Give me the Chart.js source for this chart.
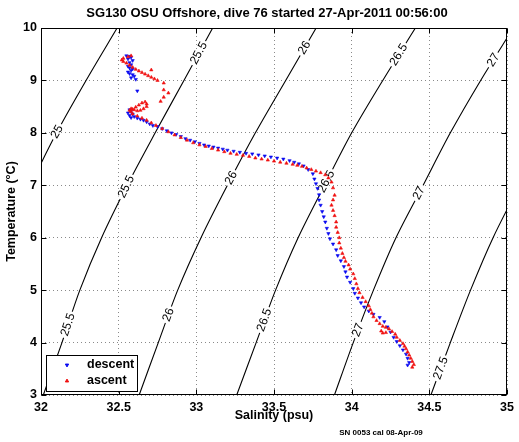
<!DOCTYPE html>
<html>
<head>
<meta charset="utf-8">
<script src="https://cdn.jsdelivr.net/npm/chart.js@4.4.1/dist/chart.umd.min.js"></script>
<style>
  html, body { margin: 0; padding: 0; background: #fff; }
  #wrap { width: 519px; height: 442px; position: relative; }
</style>
</head>
<body>
<div id="wrap"><canvas id="c"></canvas></div>
<script>
// Descent profile (salinity psu, temperature degC)
const descentSal = [32.55, 32.57, 32.58, 32.56, 32.59, 32.57, 32.58, 32.56, 32.57, 32.59, 32.58, 32.56, 32.57, 32.59, 32.60, 32.58, 32.61, 32.62,
  32.57, 32.58, 32.56, 32.59, 32.57, 32.60, 32.58, 32.62, 32.64, 32.66, 32.68, 32.70, 32.72, 32.75, 32.78, 32.81, 32.84, 32.87, 32.90, 32.93,
  32.96, 32.99, 33.02, 33.05, 33.08, 33.11, 33.14, 33.17, 33.20, 33.24, 33.28, 33.32, 33.36, 33.40, 33.44, 33.48, 33.52, 33.56, 33.60, 33.63,
  33.66, 33.69, 33.72, 33.75, 33.76, 33.77, 33.78, 33.79, 33.79, 33.80, 33.81, 33.82, 33.83, 33.84, 33.85, 33.86, 33.88, 33.90, 33.91, 33.93,
  33.95, 33.96, 33.97, 33.99, 34.01, 34.02, 34.04, 34.06, 34.08, 34.11, 34.14, 34.18, 34.21, 34.23, 34.25, 34.27, 34.29, 34.31, 34.33, 34.35,
  34.36, 34.37, 34.36];
const descentTemp = [9.47, 9.46, 9.44, 9.41, 9.38, 9.34, 9.30, 9.27, 9.24, 9.22, 9.19, 9.16, 9.13, 9.11, 9.08, 9.05, 9.02, 8.80,
  8.44, 8.41, 8.38, 8.36, 8.33, 8.31, 8.29, 8.28, 8.26, 8.24, 8.21, 8.17, 8.14, 8.12, 8.08, 8.04, 8.00, 7.97, 7.93, 7.89,
  7.86, 7.83, 7.80, 7.77, 7.75, 7.73, 7.71, 7.69, 7.67, 7.65, 7.63, 7.61, 7.60, 7.58, 7.56, 7.54, 7.52, 7.50, 7.47, 7.44,
  7.41, 7.37, 7.30, 7.22, 7.12, 7.03, 6.94, 6.82, 6.72, 6.62, 6.50, 6.40, 6.30, 6.18, 6.08, 5.98, 5.88, 5.77, 5.66, 5.56,
  5.45, 5.35, 5.25, 5.15, 5.03, 4.94, 4.85, 4.76, 4.68, 4.60, 4.54, 4.48, 4.40, 4.30, 4.20, 4.10, 4.02, 3.94, 3.86, 3.78,
  3.70, 3.62, 3.57];

// Ascent profile
const ascentSal = [34.39, 34.40, 34.39, 34.38, 34.37, 34.36, 34.35, 34.34, 34.33, 34.31, 34.29, 34.28, 34.26, 34.24, 34.22, 34.20, 34.19, 34.20,
  34.22, 34.18, 34.16, 34.14, 34.13, 34.12, 34.11, 34.09, 34.07, 34.05, 34.04, 34.03, 34.02, 34.01, 33.99, 33.98, 33.96, 33.95, 33.94, 33.93,
  33.92, 33.92, 33.91, 33.90, 33.90, 33.89, 33.88, 33.87, 33.88, 33.89, 33.88, 33.87, 33.85, 33.83, 33.80, 33.77, 33.74, 33.71, 33.68, 33.65,
  33.62, 33.58, 33.54, 33.50, 33.46, 33.42, 33.38, 33.34, 33.30, 33.26, 33.22, 33.18, 33.14, 33.10, 33.06, 33.02, 32.98, 32.94, 32.90, 32.86,
  32.82, 32.78, 32.74, 32.71, 32.68, 32.65, 32.62, 32.59, 32.58, 32.59, 32.61, 32.63, 32.65, 32.67, 32.68, 32.68, 32.66, 32.64, 32.62, 32.60,
  32.58, 32.57, 32.77, 32.79, 32.82, 32.79, 32.79, 32.71, 32.75, 32.73, 32.71, 32.69, 32.67, 32.65, 32.63, 32.61, 32.59, 32.57, 32.55, 32.53,
  32.52, 32.53, 32.56, 32.58];
const ascentTemp = [3.53, 3.58, 3.64, 3.70, 3.76, 3.82, 3.88, 3.93, 3.98, 4.04, 4.10, 4.16, 4.21, 4.26, 4.29, 4.31, 4.22, 4.18,
  4.19, 4.36, 4.42, 4.49, 4.56, 4.63, 4.70, 4.78, 4.86, 4.95, 5.03, 5.12, 5.22, 5.31, 5.40, 5.48, 5.55, 5.62, 5.70, 5.80,
  5.90, 6.00, 6.10, 6.20, 6.30, 6.42, 6.52, 6.62, 6.72, 6.81, 6.95, 7.06, 7.14, 7.20, 7.24, 7.27, 7.30, 7.33, 7.36, 7.38,
  7.40, 7.42, 7.44, 7.46, 7.48, 7.50, 7.52, 7.55, 7.57, 7.59, 7.61, 7.64, 7.67, 7.70, 7.74, 7.77, 7.81, 7.86, 7.91, 7.96,
  8.02, 8.08, 8.14, 8.19, 8.24, 8.28, 8.32, 8.36, 8.40, 8.45, 8.49, 8.53, 8.57, 8.59, 8.55, 8.50, 8.46, 8.43, 8.42, 8.44,
  8.46, 8.43, 8.60, 8.68, 8.76, 8.82, 8.95, 9.20, 9.00, 9.03, 9.06, 9.09, 9.12, 9.15, 9.18, 9.21, 9.25, 9.29, 9.33, 9.36,
  9.39, 9.42, 9.45, 9.47];

// Potential density contours (sigma-theta)
const sal25 = [31.93, 32.10, 32.29, 32.49];
const temp25 = [7, 8, 9, 10];
const sal255 = [32.015, 32.135, 32.25, 32.39, 32.555, 32.735, 32.92, 33.105];
const temp255 = [3, 4, 5, 6, 7, 8, 9, 10];
const sal26 = [32.632, 32.755, 32.88, 33.03, 33.2, 33.38, 33.575, 33.771];
const temp26 = [3, 4, 5, 6, 7, 8, 9, 10];
const sal265 = [33.26, 33.385, 33.51, 33.655, 33.825, 34.0, 34.2, 34.41];
const temp265 = [3, 4, 5, 6, 7, 8, 9, 10];
const sal27 = [33.889, 34.01, 34.14, 34.285, 34.46, 34.635, 34.83, 35.04];
const temp27 = [3, 4, 5, 6, 7, 8, 9, 10];
const sal275 = [34.51, 34.635, 34.765, 34.91, 35.08];
const temp275 = [3, 4, 5, 6, 7];

// Contour labels: level and the temperature where each one sits
const labelLevels = ['25', '25.5', '25.5', '25.5', '26', '26', '26', '26.5', '26.5', '26.5', '27', '27', '27', '27.5'];
const labelTemps = [8.02, 9.52, 6.97, 4.34, 9.62, 7.14, 4.53, 9.49, 7.07, 4.43, 9.39, 6.85, 4.24, 3.51];

const contours = [
  { level: '25', sal: sal25, temp: temp25 },
  { level: '25.5', sal: sal255, temp: temp255 },
  { level: '26', sal: sal26, temp: temp26 },
  { level: '26.5', sal: sal265, temp: temp265 },
  { level: '27', sal: sal27, temp: temp27 },
  { level: '27.5', sal: sal275, temp: temp275 },
];

const FONT = '"Liberation Sans", Arial, Helvetica, sans-serif';
const BLUE = '#0a0af0';
const RED = '#f01010';

const toPoints = (s, t) => s.map((v, i) => ({ x: v, y: t[i] }));

const datasets = [
  { label: 'ascent', data: toPoints(ascentSal, ascentTemp), pointStyle: 'triangle', rotation: 0,
    pointRadius: 1.9, borderWidth: 0.6, backgroundColor: RED, borderColor: RED },
  { label: 'descent', data: toPoints(descentSal, descentTemp), pointStyle: 'triangle', rotation: 180,
    pointRadius: 1.9, borderWidth: 0.6, backgroundColor: BLUE, borderColor: BLUE },
];
for (const c of contours) {
  datasets.push({
    label: 'sigma ' + c.level, data: toPoints(c.sal, c.temp), showLine: true, pointRadius: 0,
    borderColor: '#000', borderWidth: 1.1, tension: 0.3, fill: false,
  });
}

function contourLabels(chart) {
  const { ctx, chartArea: a, scales: { x, y } } = chart;
  ctx.save();
  ctx.beginPath();
  ctx.rect(a.left, a.top, a.right - a.left, a.bottom - a.top);
  ctx.clip();
  ctx.font = '12px ' + FONT;
  ctx.textAlign = 'center';
  ctx.textBaseline = 'middle';
  labelLevels.forEach((lev, i) => {
    const c = contours.find(k => k.level === lev);
    const t = labelTemps[i];
    let k = 0;
    while (k < c.temp.length - 2 && c.temp[k + 1] < t) k++;
    const f = (t - c.temp[k]) / (c.temp[k + 1] - c.temp[k]);
    const s = c.sal[k] + f * (c.sal[k + 1] - c.sal[k]);
    const px = x.getPixelForValue(s);
    const py = y.getPixelForValue(t);
    const dx = x.getPixelForValue(c.sal[k + 1]) - x.getPixelForValue(c.sal[k]);
    const dy = y.getPixelForValue(c.temp[k + 1]) - y.getPixelForValue(c.temp[k]);
    const w = ctx.measureText(lev).width;
    ctx.save();
    ctx.translate(px, py);
    ctx.rotate(Math.atan2(dy, dx));
    ctx.fillStyle = '#fff';
    ctx.fillRect(-w / 2 - 2, -3, w + 4, 6);
    ctx.fillStyle = '#000';
    ctx.fillText(lev, 0, 0);
    ctx.restore();
  });
  ctx.restore();
}

const decor = {
  id: 'decor',
  beforeDatasetDraw(chart, args) {
    // labels go on top of the contour lines but under the profile markers
    if (args.index === 1) contourLabels(chart);
  },
  afterDraw(chart) {
    const { ctx, chartArea: a, scales: { x, y } } = chart;
    ctx.save();
    // axes box with inward ticks
    ctx.strokeStyle = '#000';
    ctx.lineWidth = 1;
    const L = Math.round(a.left) + 0.5, R = Math.round(a.right) - 0.5;
    const T = Math.round(a.top) + 0.5, B = Math.round(a.bottom) - 0.5;
    ctx.strokeRect(L, T, R - L, B - T);
    ctx.beginPath();
    for (const tk of x.ticks) {
      const px = Math.round(x.getPixelForValue(tk.value)) + 0.5;
      ctx.moveTo(px, B); ctx.lineTo(px, B - 5);
      ctx.moveTo(px, T); ctx.lineTo(px, T + 5);
    }
    for (const tk of y.ticks) {
      const py = Math.round(y.getPixelForValue(tk.value)) + 0.5;
      ctx.moveTo(L, py); ctx.lineTo(L + 5, py);
      ctx.moveTo(R, py); ctx.lineTo(R - 5, py);
    }
    ctx.stroke();

    // texts
    ctx.fillStyle = '#000';
    ctx.textAlign = 'center';
    ctx.textBaseline = 'middle';
    ctx.font = 'bold 13px ' + FONT;
    ctx.fillText('SG130 OSU Offshore, dive 76 started 27-Apr-2011 00:56:00', 267, 13);
    ctx.font = 'bold 12.5px ' + FONT;
    ctx.fillText('Salinity (psu)', (a.left + a.right) / 2, 416);
    ctx.save();
    ctx.translate(12, (a.top + a.bottom) / 2);
    ctx.rotate(-Math.PI / 2);
    ctx.fillText('Temperature (\u00B0C)', 0, 0);
    ctx.restore();
    ctx.font = 'bold 8px ' + FONT;
    ctx.fillText('SN 0053 cal 08-Apr-09', 381, 433);

    // legend
    ctx.fillStyle = '#fff';
    ctx.fillRect(46, 355, 91, 36);
    ctx.strokeRect(46.5, 355.5, 91, 36);
    const items = [['descent', BLUE, 180, 365], ['ascent', RED, 0, 381]];
    for (const [name, col, rot, yy] of items) {
      ctx.fillStyle = col;
      ctx.strokeStyle = col;
      Chart.helpers.drawPoint(ctx, { pointStyle: 'triangle', rotation: rot, radius: 1.9, borderWidth: 0.6 }, 67, yy);
      ctx.fillStyle = '#000';
      ctx.textAlign = 'left';
      ctx.font = 'bold 12.5px ' + FONT;
      ctx.fillText(name, 87, yy);
    }
    ctx.restore();
  },
};

const tickFont = { family: FONT, size: 12.5, weight: 'bold' };

new Chart(document.getElementById('c'), {
  type: 'scatter',
  data: { datasets },
  options: {
    responsive: true,
    maintainAspectRatio: false,
    animation: false,
    events: [],
    devicePixelRatio: 1,
    layout: { padding: { top: 28, right: 11, left: 0, bottom: 0 } },
    plugins: { legend: { display: false }, tooltip: { enabled: false } },
    scales: {
      x: {
        type: 'linear', min: 32, max: 35,
        afterFit: s => { s.height = 47; },
        ticks: { stepSize: 0.5, color: '#000', font: tickFont, padding: 5, maxRotation: 0, callback: v => String(v) },
        grid: { color: '#8a8a8a', lineWidth: 1, drawTicks: false },
        border: { display: false, dash: [1, 3] },
      },
      y: {
        type: 'linear', min: 3, max: 10,
        afterFit: s => { s.width = 41; },
        ticks: { stepSize: 1, color: '#000', font: tickFont, padding: 4, callback: v => String(v) },
        grid: { color: '#8a8a8a', lineWidth: 1, drawTicks: false },
        border: { display: false, dash: [1, 3] },
      },
    },
  },
  plugins: [decor],
});
</script>
</body>
</html>
